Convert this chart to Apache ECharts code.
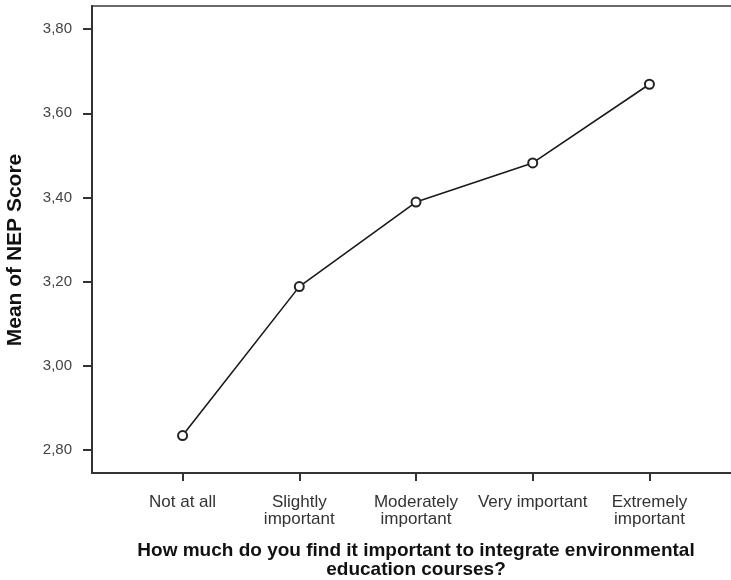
<!DOCTYPE html>
<html>
<head>
<meta charset="utf-8">
<script src="https://cdn.jsdelivr.net/npm/echarts@6/dist/echarts.min.js"></script>
<style>
  html, body { margin: 0; padding: 0; background: #fff; }
  #chart { width: 731px; height: 580px; }
</style>
</head>
<body>
<div id="chart"></div>
<script>
// Importance categories (x axis) and mean NEP score for each
const categories = [
  'Not at all',
  'Slightly\nimportant',
  'Moderately\nimportant',
  'Very important',
  'Extremely\nimportant'
];
const meanScores = [2.834, 3.188, 3.389, 3.482, 3.669];
const yTicks = [2.8, 3.0, 3.2, 3.4, 3.6, 3.8];
const xTicks = [0, 1, 2, 3, 4];

const font = '"Liberation Sans", Arial, sans-serif';
const chart = echarts.init(document.getElementById('chart'), null, { renderer: 'canvas' });

chart.setOption({
  animation: false,
  backgroundColor: '#fff',
  grid: {
    left: 92, right: -9, top: 6, bottom: 107,
    outerBoundsMode: 'none',
    containLabel: false,
    show: true, borderColor: '#6a6a6a', borderWidth: 2, backgroundColor: 'transparent'
  },
  xAxis: {
    type: 'value',
    min: -0.776, max: 4.776,
    splitLine: { show: false },
    axisLine: { show: true, onZero: false, lineStyle: { color: '#333', width: 2 } },
    axisTick: { show: true, customValues: xTicks, length: 8, lineStyle: { color: '#333', width: 2 } },
    axisLabel: {
      customValues: xTicks,
      formatter: v => categories[Math.round(v)],
      color: '#333', fontFamily: font, fontSize: 17, lineHeight: 17, margin: 21
    },
    name: 'How much do you find it important to integrate environmental\neducation courses?',
    nameLocation: 'middle',
    nameGap: 68,
    nameTextStyle: { color: '#111', fontFamily: font, fontSize: 19, fontWeight: 'bold', lineHeight: 19, align: 'center' }
  },
  yAxis: {
    type: 'value',
    min: 2.745, max: 3.855,
    splitLine: { show: false },
    axisLine: { show: true, onZero: false, lineStyle: { color: '#333', width: 2 } },
    axisTick: { show: true, customValues: yTicks, length: 9, lineStyle: { color: '#333', width: 2 } },
    axisLabel: {
      customValues: yTicks,
      formatter: v => v.toFixed(2).replace('.', ','),
      color: '#444', fontFamily: font, fontSize: 15, margin: 20
    }
  },
  graphic: [{
    type: 'text',
    x: 15, y: 250,
    rotation: Math.PI / 2,
    style: {
      text: 'Mean of NEP Score',
      fill: '#111', font: 'bold 21px ' + font,
      textAlign: 'center', textVerticalAlign: 'middle'
    }
  }],
  series: [{
    type: 'line',
    data: meanScores.map((v, i) => [i, v]),
    symbol: 'emptyCircle',
    symbolSize: 9,
    lineStyle: { color: '#1a1a1a', width: 1.6 },
    itemStyle: { color: '#222', borderColor: '#222', borderWidth: 1.4 },
    z: 5
  }]
});
</script>
</body>
</html>
